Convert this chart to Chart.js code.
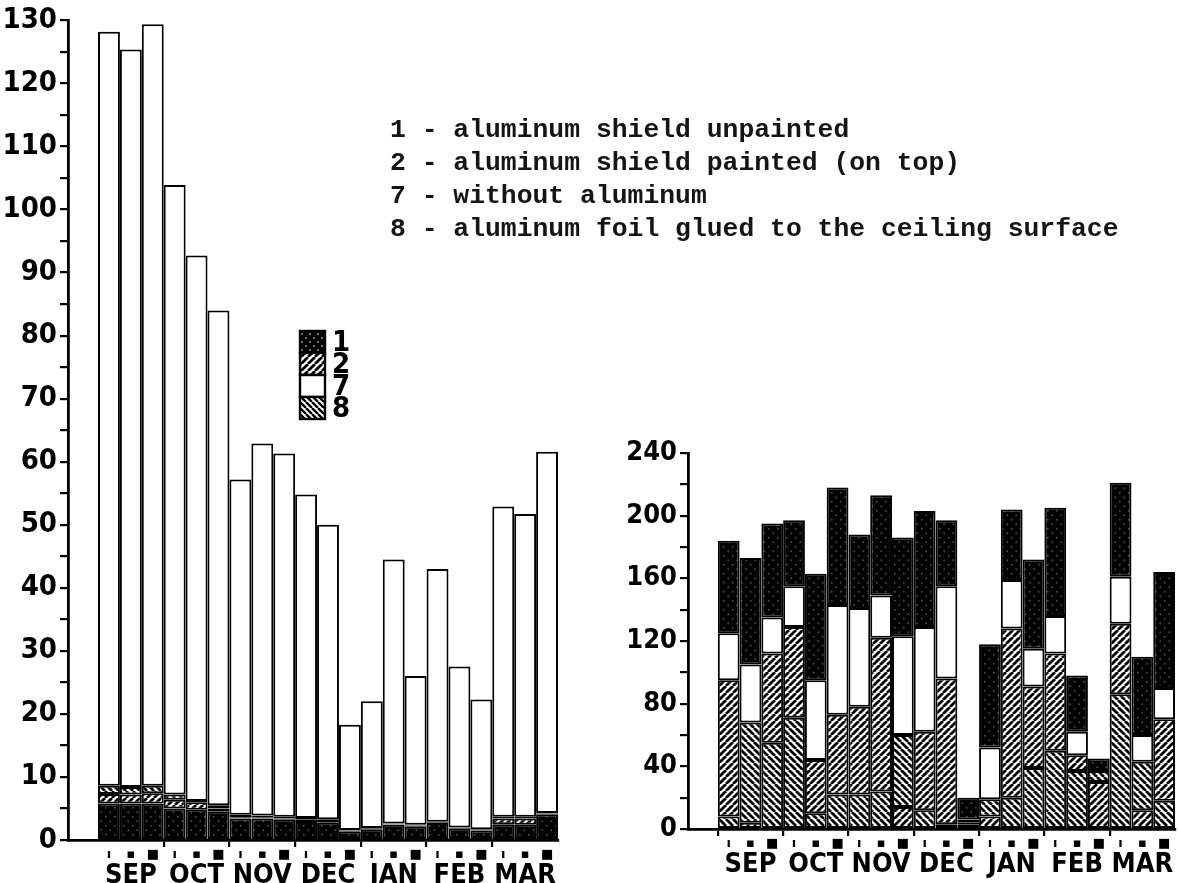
<!DOCTYPE html>
<html>
<head>
<meta charset="utf-8">
<script src="https://cdn.jsdelivr.net/npm/chart.js@4.4.1/dist/chart.umd.min.js"></script>
<style>
  html, body { margin: 0; padding: 0; background: #fff; }
  body { width: 1179px; height: 883px; position: relative; overflow: hidden; }
  #left { position: absolute; left: 0; top: 0; }
  #right { position: absolute; left: 600px; top: 0; }
  #key {
    position: absolute; left: 390px; top: 114px;
    font: bold 26.4px "Liberation Mono", "DejaVu Sans Mono", monospace;
    line-height: 33px; white-space: pre; color: #151515;
  }
</style>
</head>
<body>
<canvas id="left" width="600" height="883"></canvas>
<canvas id="right" width="579" height="883"></canvas>
<div id="key">1 - aluminum shield unpainted
2 - aluminum shield painted (on top)
7 - without aluminum
8 - aluminum foil glued to the ceiling surface</div>
<script>
// Ten-day periods, September to March
const MONTHS = ['SEP', 'OCT', 'NOV', 'DEC', 'JAN', 'FEB', 'MAR'];
const DEKAD_MARKS = ['ı', '▪', '■'];
const PERIODS = MONTHS.flatMap(m => [m + ' 1', m + ' 2', m + ' 3']);
const SERIES_KEYS = ['1', '2', '7', '8'];

// Left panel (0-130)
const left1 = [5.8, 5.8, 5.8, 5.0, 4.8, 4.5, 3.4, 3.4, 3.2, 3.0, 2.8, 1.4, 1.7, 2.4, 2.2, 2.7, 1.8, 1.5, 2.5, 2.4, 4.1];
const left2 = [7.3, 7.2, 7.4, 6.4, 6.0, 5.0, 3.6, 3.6, 3.4, 3.2, 3.0, 1.5, 1.8, 2.5, 2.3, 2.8, 1.9, 1.6, 3.4, 3.4, 4.2];
const left7 = [128.2, 125.4, 129.4, 103.9, 92.7, 84.0, 57.2, 62.9, 61.3, 54.8, 50.0, 18.3, 22.0, 44.5, 26.0, 43.0, 27.5, 22.3, 52.9, 51.7, 61.6];
const left8 = [8.6, 8.4, 8.6, 7.2, 6.2, 5.5, 4.0, 3.9, 3.7, 3.5, 3.3, 1.6, 1.9, 2.6, 2.4, 2.9, 2.0, 1.7, 3.7, 3.7, 4.3];

// Right panel (0-240)
const right1 = [184, 173, 195, 197, 163, 218, 188, 213, 186, 203, 197, 20, 118, 204, 172, 205, 98, 45, 221, 110, 164];
const right2 = [95, 4, 112, 129, 44, 73, 78, 122, 14, 62, 96, 3, 8, 128, 91, 112, 47, 30, 131, 12, 70];
const right7 = [125, 105, 135, 155, 95, 143, 141, 149, 123, 129, 155, 6, 52, 159, 115, 136, 62, 0, 161, 60, 90];
const right8 = [8, 68, 55, 71, 10, 22, 22, 24, 60, 12, 3, 4, 19, 20, 39, 50, 37, 37, 86, 43, 18];

const NARROW = '"Liberation Sans Narrow", "DejaVu Sans Condensed", "Roboto Condensed", "Liberation Sans", sans-serif';

// ---- fill patterns ----
function hatch(forward, gap, lw) {
  const c = document.createElement('canvas');
  c.width = c.height = gap;
  const g = c.getContext('2d');
  g.fillStyle = '#fff';
  g.fillRect(0, 0, gap, gap);
  g.strokeStyle = '#000';
  g.lineWidth = lw;
  g.beginPath();
  for (const x0 of [-gap, 0, gap]) {
    if (forward) { g.moveTo(x0, gap); g.lineTo(x0 + gap, 0); }
    else { g.moveTo(x0, 0); g.lineTo(x0 + gap, gap); }
  }
  g.stroke();
  return g.createPattern(c, 'repeat');
}
function dotted(size, color) {
  const c = document.createElement('canvas');
  c.width = c.height = size;
  const g = c.getContext('2d');
  g.fillStyle = '#000';
  g.fillRect(0, 0, size, size);
  g.fillStyle = color;
  for (const [px, py] of [[size * 0.25, size * 0.25], [size * 0.75, size * 0.75]]) {
    g.beginPath(); g.arc(px, py, 1.0, 0, Math.PI * 2); g.fill();
  }
  return g.createPattern(c, 'repeat');
}
const FILLS = [dotted(9, '#4a4a4a'), hatch(true, 7, 2.8), '#ffffff', hatch(false, 7, 2.8)];
const KEY_FILLS = [dotted(8, '#9a9a9a'), FILLS[1], FILLS[2], hatch(false, 6, 2.4)];

// each overlapping bar shows from the next lower series value up to its own
function spans(all, k) {
  return PERIODS.map((_, i) => {
    const v = all[k][i];
    if (!(v > 0)) return null;
    let lo = 0;
    all.forEach((s, j) => {
      if (j === k) return;
      const w = s[i];
      if ((w < v || (w === v && j < k)) && w > lo) lo = w;
    });
    return lo < v ? { x: i, y: [lo, v] } : null;
  }).filter(Boolean);
}

function datasets(all) {
  return SERIES_KEYS.map((key, k) => ({
    label: key,
    data: spans(all, k),
    backgroundColor: FILLS[k],
    borderColor: '#000',
    borderWidth: 2,
    borderSkipped: false,
    inflateAmount: 0,
    grouped: false,
    categoryPercentage: 1,
    barPercentage: 1,
    xAxisID: 'x',
    yAxisID: 'y'
  }));
}

const X_MIN = -1.87, X_MAX = 20.5;

function scales(cfg) {
  const common = { type: 'linear', position: 'bottom', min: X_MIN, max: X_MAX, bounds: 'data', offset: false };
  return {
    y: {
      type: 'linear', position: 'left', min: 0, max: cfg.yMax, bounds: 'data',
      ticks: {
        stepSize: cfg.yStep, autoSkip: false, padding: 3, color: '#000',
        font: { family: NARROW, size: cfg.yFont, weight: 'bold' },
        callback: v => (v % cfg.labelEvery === 0 ? String(v) : '')
      },
      grid: { drawOnChartArea: false, drawTicks: true, tickLength: 8, color: '#000', lineWidth: 2.2, offset: false },
      border: { display: true, color: '#000', width: 2.8 },
      afterFit: s => { s.width = cfg.yWidth; }
    },
    xb: Object.assign({}, common, {
      weight: 0,
      afterBuildTicks: s => { s.ticks = cfg.edges.map(v => ({ value: v })); },
      ticks: { display: false, autoSkip: false },
      grid: { display: true, drawOnChartArea: false, drawTicks: true, tickLength: 7, color: '#000', lineWidth: 2.2, offset: false },
      border: { display: true, color: '#000', width: 2.8 },
      afterFit: s => { s.height = cfg.hb; }
    }),
    x: Object.assign({}, common, {
      weight: 1,
      afterBuildTicks: s => { s.ticks = PERIODS.map((_, i) => ({ value: i })); },
      ticks: {
        autoSkip: false, maxRotation: 0, minRotation: 0, padding: 0, color: '#000',
        font: { family: '"DejaVu Sans", sans-serif', size: 13, weight: 'bold' },
        callback: v => DEKAD_MARKS[Math.round(v) % 3]
      },
      grid: { display: false, drawTicks: false, offset: false },
      border: { display: false },
      afterFit: s => { s.height = cfg.hx; }
    }),
    xm: Object.assign({}, common, {
      weight: 2,
      afterBuildTicks: s => { s.ticks = MONTHS.map((_, m) => ({ value: 3 * m + 1 })); },
      ticks: {
        autoSkip: false, maxRotation: 0, minRotation: 0, padding: 0, color: '#000',
        font: { family: NARROW, size: cfg.mFont, weight: 'bold' },
        callback: v => MONTHS[Math.round((v - 1) / 3)]
      },
      grid: { display: false, drawTicks: false, offset: false },
      border: { display: false },
      afterFit: s => { s.height = cfg.hm; }
    })
  };
}

// small pattern key beside the left panel
const patternKey = {
  id: 'patternKey',
  afterDraw(chart) {
    const ctx = chart.ctx;
    const x = 300, y0 = 331, w = 25, h = 22;
    ctx.save();
    SERIES_KEYS.forEach((key, n) => {
      const y = y0 + n * h;
      ctx.fillStyle = KEY_FILLS[n];
      ctx.fillRect(x, y, w, h);
      ctx.strokeStyle = '#000';
      ctx.lineWidth = 2.4;
      ctx.strokeRect(x, y, w, h);
      ctx.fillStyle = '#000';
      ctx.font = 'bold 29px ' + NARROW;
      ctx.textBaseline = 'middle';
      ctx.fillText(key, x + w + 7, y + h / 2 + 1);
    });
    ctx.restore();
  }
};

function baseOptions(padding, sc) {
  return {
    responsive: false,
    animation: false,
    devicePixelRatio: 1,
    layout: { padding },
    plugins: { legend: { display: false }, tooltip: { enabled: false } },
    scales: sc
  };
}

const interiorEdges = MONTHS.slice(1).map((_, m) => 3 * (m + 1) - 0.5);

new Chart(document.getElementById('left'), {
  type: 'bar',
  data: { datasets: datasets([left1, left2, left7, left8]) },
  options: baseOptions({ left: 0, right: 42, top: 16, bottom: 0 },
    scales({ yMax: 130, yStep: 5, labelEvery: 10, yFont: 29, yWidth: 68, edges: interiorEdges, hb: 7, hx: 13, hm: 23, mFont: 27 })),
  plugins: [patternKey]
});

new Chart(document.getElementById('right'), {
  type: 'bar',
  data: { datasets: datasets([right1, right2, right7, right8]) },
  options: baseOptions({ left: 0, right: 4, top: 453, bottom: 0 },
    scales({ yMax: 240, yStep: 20, labelEvery: 40, yFont: 27, yWidth: 88, edges: [-0.5].concat(interiorEdges), hb: 7, hx: 13, hm: 34, mFont: 27 }))
});
</script>
</body>
</html>
